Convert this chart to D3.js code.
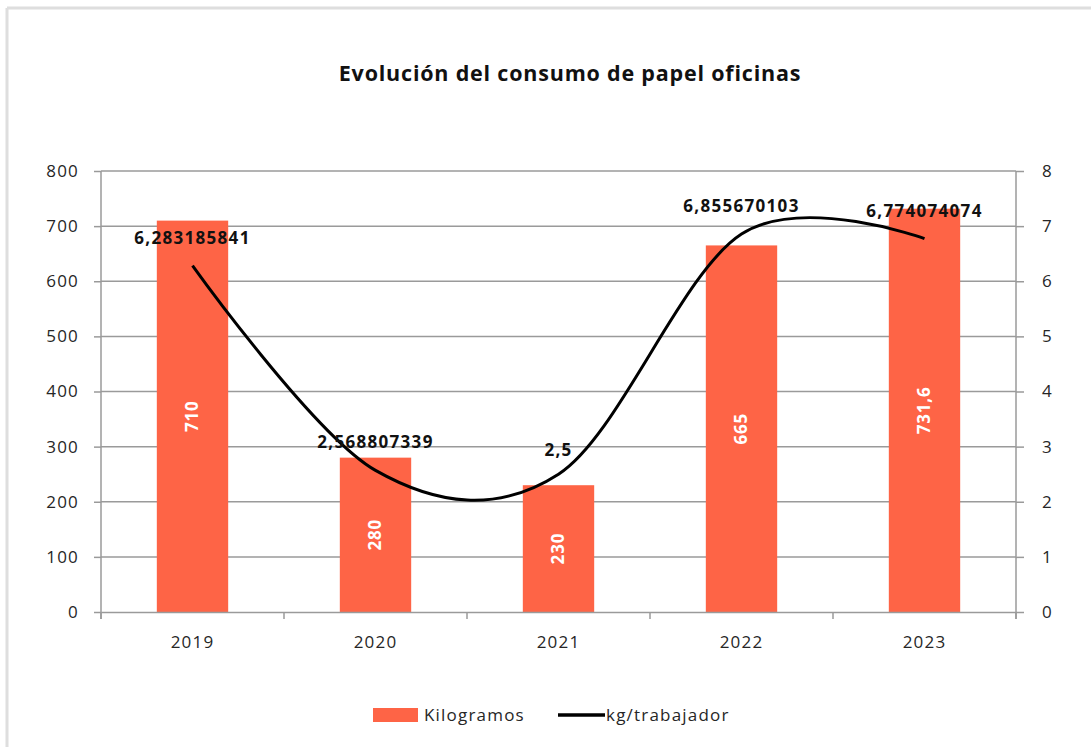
<!DOCTYPE html>
<meta charset="utf-8">
<style>
body { margin: 0; background: #fff; }
svg text { font-family: "Open Sans", "Noto Sans", sans-serif; fill: #262626; }
.tick text { font-size: 17px; letter-spacing: 1.2px; }
.tick line, .domain { stroke: #9a9a9a; stroke-width: 1.5px; }
.bar { fill: #fe6446; }
</style>
<body>
<script src="https://d3js.org/d3.v7.min.js"></script>
<script>
// chart data
const years = ["2019", "2020", "2021", "2022", "2023"];
const kilogramos = [710, 280, 230, 665, 731.6];
const kgTrabajador = [6.283185841, 2.568807339, 2.5, 6.855670103, 6.774074074];
const kgLabels = ["710", "280", "230", "665", "731,6"];
const ratioLabels = ["6,283185841", "2,568807339", "2,5", "6,855670103", "6,774074074"];
const leftTicks = [0, 100, 200, 300, 400, 500, 600, 700, 800];
const rightTicks = [0, 1, 2, 3, 4, 5, 6, 7, 8];

const W = 1091, H = 747;
const margin = {top: 171, right: 75, bottom: 135, left: 101},
      width = W - margin.left - margin.right,
      height = H - margin.top - margin.bottom;

const svg = d3.select("body").append("svg")
    .attr("width", W)
    .attr("height", H);

// light frame (top and left edges only)
svg.append("line").attr("x1", 7).attr("x2", W).attr("y1", 8).attr("y2", 8)
    .attr("stroke", "#dedede").attr("stroke-width", 3);
svg.append("line").attr("x1", 7).attr("x2", 7).attr("y1", 8).attr("y2", H)
    .attr("stroke", "#dedede").attr("stroke-width", 3);

svg.append("text")
    .attr("x", 570).attr("y", 81)
    .attr("text-anchor", "middle")
    .style("font-size", "21.5px").style("font-weight", "bold")
    .style("letter-spacing", "0.8px")
    .style("fill", "#111")
    .text("Evolución del consumo de papel oficinas");

const g = svg.append("g")
    .attr("transform", "translate(" + margin.left + "," + margin.top + ")");

const x = d3.scaleBand().domain(years).range([0, width])
    .paddingInner(0.61).paddingOuter(0.305);
const yL = d3.scaleLinear().domain([0, 800]).range([height, 0]);
const yR = d3.scaleLinear().domain([0, 8]).range([height, 0]);

// gridlines
g.selectAll(".grid")
    .data(leftTicks.slice(1))
  .enter().append("line")
    .attr("class", "grid")
    .attr("x1", 0).attr("x2", width)
    .attr("y1", d => yL(d)).attr("y2", d => yL(d))
    .attr("stroke", "#9a9a9a").attr("stroke-width", 1.5);

// bars
g.selectAll(".bar")
    .data(kilogramos)
  .enter().append("rect")
    .attr("class", "bar")
    .attr("x", (d, i) => x(years[i]))
    .attr("width", x.bandwidth())
    .attr("y", d => yL(d))
    .attr("height", d => height - yL(d));

// axes
const axL = g.append("g")
    .call(d3.axisLeft(yL).tickValues(leftTicks).tickSize(7).tickPadding(15));

const axR = g.append("g")
    .attr("transform", "translate(" + width + ",0)")
    .call(d3.axisRight(yR).tickValues(rightTicks).tickSize(8).tickPadding(18));

// category axis with ticks between bands
const axB = g.append("g")
    .attr("transform", "translate(0," + height + ")")
    .call(d3.axisBottom(x).tickSize(0).tickPadding(24));
axB.selectAll(".tick line").remove();
const step = x.step();
axB.selectAll(".sep")
    .data(d3.range(years.length + 1))
  .enter().append("line")
    .attr("x1", i => i * step).attr("x2", i => i * step)
    .attr("y1", 0).attr("y2", 7)
    .attr("stroke", "#9a9a9a").attr("stroke-width", 1.5);
axL.select(".domain").attr("d", "M0," + (height + 7) + "V0");
axR.select(".domain").attr("d", "M0," + (height + 7) + "V0");

// bar value labels
g.selectAll(".barlab")
    .data(kilogramos)
  .enter().append("text")
    .attr("transform", (d, i) => "translate(" + (x(years[i]) + x.bandwidth() / 2) + "," + ((yL(d) + height) / 2) + ") rotate(-90)")
    .attr("text-anchor", "middle").attr("dy", "0.35em")
    .style("fill", "#fff").style("font-weight", "bold").style("font-size", "17px")
    .style("letter-spacing", "0.8px")
    .text((d, i) => kgLabels[i]);

// line series
const cx = (i) => x(years[i]) + x.bandwidth() / 2;
const line = d3.line()
    .x((d, i) => cx(i))
    .y(d => yR(d))
    .curve(d3.curveCardinal.tension(0));
g.append("path")
    .datum(kgTrabajador)
    .attr("fill", "none")
    .attr("stroke", "#000")
    .attr("stroke-width", 3)
    .attr("d", line);

g.selectAll(".linelab")
    .data(kgTrabajador)
  .enter().append("text")
    .attr("x", (d, i) => cx(i))
    .attr("y", (d, i) => yR(d) - (i === 2 ? 18 : 22))
    .attr("text-anchor", "middle")
    .style("font-weight", "bold").style("font-size", "17px").style("fill", "#111")
    .style("letter-spacing", "1.3px")
    .text((d, i) => ratioLabels[i]);

// legend
const leg = svg.append("g").attr("transform", "translate(0,715)");
leg.append("rect").attr("x", 373).attr("y", -7).attr("width", 45).attr("height", 14)
    .attr("fill", "#fe6446");
leg.append("text").attr("x", 424).attr("dy", "0.35em")
    .style("font-size", "17px").style("letter-spacing", "1.2px").text("Kilogramos");
leg.append("line").attr("x1", 558).attr("x2", 605)
    .attr("stroke", "#000").attr("stroke-width", 3.5);
leg.append("text").attr("x", 606).attr("dy", "0.35em")
    .style("font-size", "17px").style("letter-spacing", "1.2px").text("kg/trabajador");
</script>
</body>
